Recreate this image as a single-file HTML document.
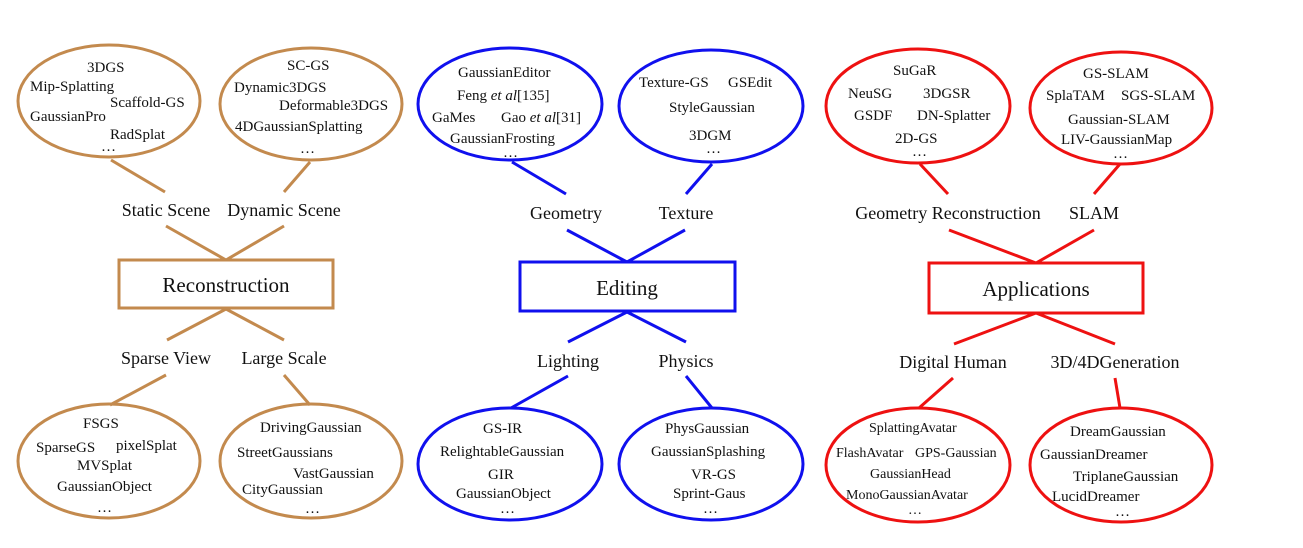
<!DOCTYPE html>
<html><head><meta charset="utf-8"><style>
html,body{margin:0;padding:0;background:#fff;}
svg{display:block;}
text{font-family:"Liberation Serif",serif;fill:#111;}
.s{font-size:15px;}
.m{font-size:18px;text-anchor:middle;}
.b{font-size:21px;text-anchor:middle;}
.t{font-size:14px;}
</style></head><body>
<svg width="1303" height="548" viewBox="0 0 1303 548" xmlns="http://www.w3.org/2000/svg">
<g fill="none" stroke="#c38a4e" stroke-width="3">
<ellipse cx="109" cy="101" rx="91" ry="56"/>
<ellipse cx="311" cy="104" rx="91" ry="56"/>
<ellipse cx="109" cy="461" rx="91" ry="57"/>
<ellipse cx="311" cy="461" rx="91" ry="57"/>
<rect x="119" y="260" width="214" height="48"/>
<line x1="111" y1="160" x2="165" y2="192"/><line x1="310" y1="162" x2="284" y2="192"/>
<line x1="166" y1="226" x2="226" y2="260"/><line x1="284" y1="226" x2="226" y2="260"/>
<line x1="226" y1="309" x2="167" y2="340"/><line x1="226" y1="309" x2="284" y2="340"/>
<line x1="166" y1="375" x2="110" y2="405"/><line x1="284" y1="375" x2="310" y2="405"/>
</g>
<g fill="none" stroke="#1010ee" stroke-width="3">
<ellipse cx="510" cy="104" rx="92" ry="56"/>
<ellipse cx="711" cy="106" rx="92" ry="56"/>
<ellipse cx="510" cy="464" rx="92" ry="56"/>
<ellipse cx="711" cy="464" rx="92" ry="56"/>
<rect x="520" y="262" width="215" height="49"/>
<line x1="512" y1="162" x2="566" y2="194"/><line x1="712" y1="164" x2="686" y2="194"/>
<line x1="567" y1="230" x2="627" y2="262"/><line x1="685" y1="230" x2="627" y2="262"/>
<line x1="627" y1="312" x2="568" y2="342"/><line x1="627" y1="312" x2="686" y2="342"/>
<line x1="568" y1="376" x2="511" y2="408"/><line x1="686" y1="376" x2="712" y2="408"/>
</g>
<g fill="none" stroke="#ee1111" stroke-width="3">
<ellipse cx="918" cy="106" rx="92" ry="57"/>
<ellipse cx="1121" cy="108" rx="91" ry="56"/>
<ellipse cx="918" cy="465" rx="92" ry="57"/>
<ellipse cx="1121" cy="465" rx="91" ry="57"/>
<rect x="929" y="263" width="214" height="50"/>
<line x1="920" y1="164" x2="948" y2="194"/><line x1="1120" y1="164" x2="1094" y2="194"/>
<line x1="949" y1="230" x2="1036" y2="263"/><line x1="1094" y1="230" x2="1036" y2="263"/>
<line x1="1036" y1="313" x2="954" y2="344"/><line x1="1036" y1="313" x2="1115" y2="344"/>
<line x1="953" y1="378" x2="919" y2="408"/><line x1="1115" y1="378" x2="1120" y2="408"/>
</g>

<!-- labels -->
<text class="m" x="166" y="216">Static Scene</text>
<text class="m" x="284" y="216">Dynamic Scene</text>
<text class="b" x="226" y="292">Reconstruction</text>
<text class="m" x="166" y="364">Sparse View</text>
<text class="m" x="284" y="364">Large Scale</text>

<text class="m" x="566" y="219">Geometry</text>
<text class="m" x="686" y="219">Texture</text>
<text class="b" x="627" y="295">Editing</text>
<text class="m" x="568" y="367">Lighting</text>
<text class="m" x="686" y="367">Physics</text>

<text class="m" x="948" y="219">Geometry Reconstruction</text>
<text class="m" x="1094" y="219">SLAM</text>
<text class="b" x="1036" y="296">Applications</text>
<text class="m" x="953" y="368">Digital Human</text>
<text class="m" x="1115" y="368">3D/4DGeneration</text>

<!-- left ellipses -->
<text class="s" x="87" y="72">3DGS</text>
<text class="s" x="30" y="91">Mip-Splatting</text>
<text class="s" x="110" y="107">Scaffold-GS</text>
<text class="s" x="30" y="121">GaussianPro</text>
<text class="s" x="110" y="139">RadSplat</text>
<text class="s" x="101" y="151">…</text>
<text class="s" x="287" y="70">SC-GS</text>
<text class="s" x="234" y="92">Dynamic3DGS</text>
<text class="s" x="279" y="110">Deformable3DGS</text>
<text class="s" x="235" y="131">4DGaussianSplatting</text>
<text class="s" x="300" y="153">…</text>
<text class="s" x="83" y="428">FSGS</text>
<text class="s" x="36" y="452">SparseGS</text>
<text class="s" x="116" y="450">pixelSplat</text>
<text class="s" x="77" y="470">MVSplat</text>
<text class="s" x="57" y="491">GaussianObject</text>
<text class="s" x="97" y="512">…</text>
<text class="s" x="260" y="432">DrivingGaussian</text>
<text class="s" x="237" y="457">StreetGaussians</text>
<text class="s" x="293" y="478">VastGaussian</text>
<text class="s" x="242" y="494">CityGaussian</text>
<text class="s" x="305" y="513">…</text>

<!-- middle ellipses -->
<text class="s" x="458" y="77">GaussianEditor</text>
<text class="s" x="457" y="100">Feng <tspan font-style="italic">et al</tspan>[135]</text>
<text class="s" x="432" y="122">GaMes</text>
<text class="s" x="501" y="122">Gao <tspan font-style="italic">et al</tspan>[31]</text>
<text class="s" x="450" y="143">GaussianFrosting</text>
<text class="s" x="503" y="157">…</text>
<text class="s" x="639" y="87">Texture-GS</text>
<text class="s" x="728" y="87">GSEdit</text>
<text class="s" x="669" y="112">StyleGaussian</text>
<text class="s" x="689" y="140">3DGM</text>
<text class="s" x="706" y="153">…</text>
<text class="s" x="483" y="433">GS-IR</text>
<text class="s" x="440" y="456">RelightableGaussian</text>
<text class="s" x="488" y="479">GIR</text>
<text class="s" x="456" y="498">GaussianObject</text>
<text class="s" x="500" y="513">…</text>
<text class="s" x="665" y="433">PhysGaussian</text>
<text class="s" x="651" y="456">GaussianSplashing</text>
<text class="s" x="691" y="479">VR-GS</text>
<text class="s" x="673" y="498">Sprint-Gaus</text>
<text class="s" x="703" y="513">…</text>

<!-- right ellipses -->
<text class="s" x="893" y="75">SuGaR</text>
<text class="s" x="848" y="98">NeuSG</text>
<text class="s" x="923" y="98">3DGSR</text>
<text class="s" x="854" y="120">GSDF</text>
<text class="s" x="917" y="120">DN-Splatter</text>
<text class="s" x="895" y="143">2D-GS</text>
<text class="s" x="912" y="156">…</text>
<text class="s" x="1083" y="78">GS-SLAM</text>
<text class="s" x="1046" y="100">SplaTAM</text>
<text class="s" x="1121" y="100">SGS-SLAM</text>
<text class="s" x="1068" y="124">Gaussian-SLAM</text>
<text class="s" x="1061" y="144">LIV-GaussianMap</text>
<text class="s" x="1113" y="158">…</text>
<text class="t" x="869" y="432">SplattingAvatar</text>
<text class="t" x="836" y="457">FlashAvatar</text>
<text class="t" x="915" y="457">GPS-Gaussian</text>
<text class="t" x="870" y="478">GaussianHead</text>
<text class="t" x="846" y="499">MonoGaussianAvatar</text>
<text class="t" x="908" y="514">…</text>
<text class="s" x="1070" y="436">DreamGaussian</text>
<text class="s" x="1040" y="459">GaussianDreamer</text>
<text class="s" x="1073" y="481">TriplaneGaussian</text>
<text class="s" x="1052" y="501">LucidDreamer</text>
<text class="s" x="1115" y="516">…</text>
</svg>
</body></html>
